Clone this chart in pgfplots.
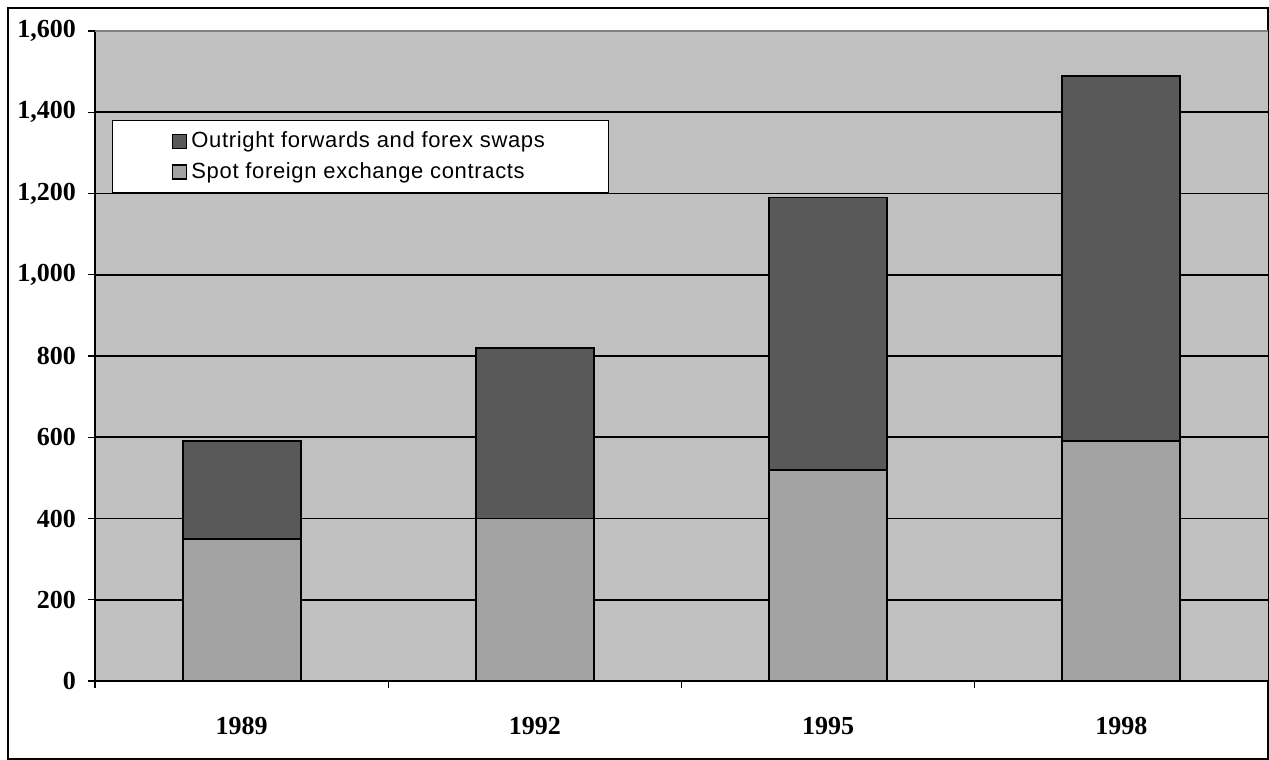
\documentclass[border=0pt]{standalone}
\usepackage{pgfplots}
\pgfplotsset{compat=1.18}
\usepackage{fontspec}
\setmainfont{Liberation Serif}
\newfontfamily\arial[LetterSpace=3]{Liberation Sans}
\definecolor{bg}{HTML}{C0C0C0}
\definecolor{spot}{HTML}{A3A3A3}
\definecolor{fwd}{HTML}{595959}
\begin{document}
\begin{tikzpicture}
\useasboundingbox (0,0) rectangle (634.5pt,380pt);
\draw[line width=1pt] (4pt,0.5pt) rectangle (634pt,376pt);
\begin{axis}[at={(47.5pt,39.5pt)}, anchor=south west,
  width=586.5pt, height=325pt, scale only axis,
  ybar stacked, bar width=59pt,
  xmin=-0.5, xmax=3.5, ymin=0, ymax=1600,
  xtick={-0.5,0.5,1.5,2.5,3.5}, x tick label as interval,
  xticklabels={1989,1992,1995,1998},
  ytick={0,200,...,1400}, extra y ticks={1600},
  extra y tick style={grid style={gray, line width=1pt}},
  ymajorgrids, grid style={black, line width=0.8pt},
  axis x line*=bottom, axis y line*=left,
  axis line style={black, line width=0.8pt},
  axis background/.style={fill=bg},
  tick align=outside, major tick length=3.5pt,
  tick style={black, line width=0.6pt},
  tick label style={font=\bfseries\fontsize{13}{14}\selectfont},
  xticklabel style={yshift=-11pt},
  yticklabel style={xshift=-2.5pt},
  /pgf/number format/assume math mode=true,
  /pgf/number format/1000 sep={,},
  reverse legend,
  legend image code/.code={\draw[#1, draw=black, line width=0.6pt] (0pt,-3.5pt) rectangle (7pt,3.5pt);},
  legend style={at={(0.0145,0.863)}, anchor=north west, fill=white, draw=black, line width=0.6pt,
    font=\arial\fontsize{11}{13}\selectfont, inner xsep=29.8pt, inner ysep=3.5pt,
    row sep=2pt, cells={anchor=west}},
  legend cell align=left,
]
\addplot[fill=spot, draw=black, line width=0.9pt] coordinates {(0,350) (1,400) (2,520) (3,590)};
\addplot[fill=fwd, draw=black, line width=0.9pt] coordinates {(0,240) (1,420) (2,670) (3,900)};
\legend{Spot foreign exchange contracts, Outright forwards and forex swaps}
\end{axis}
\end{tikzpicture}
\end{document}
